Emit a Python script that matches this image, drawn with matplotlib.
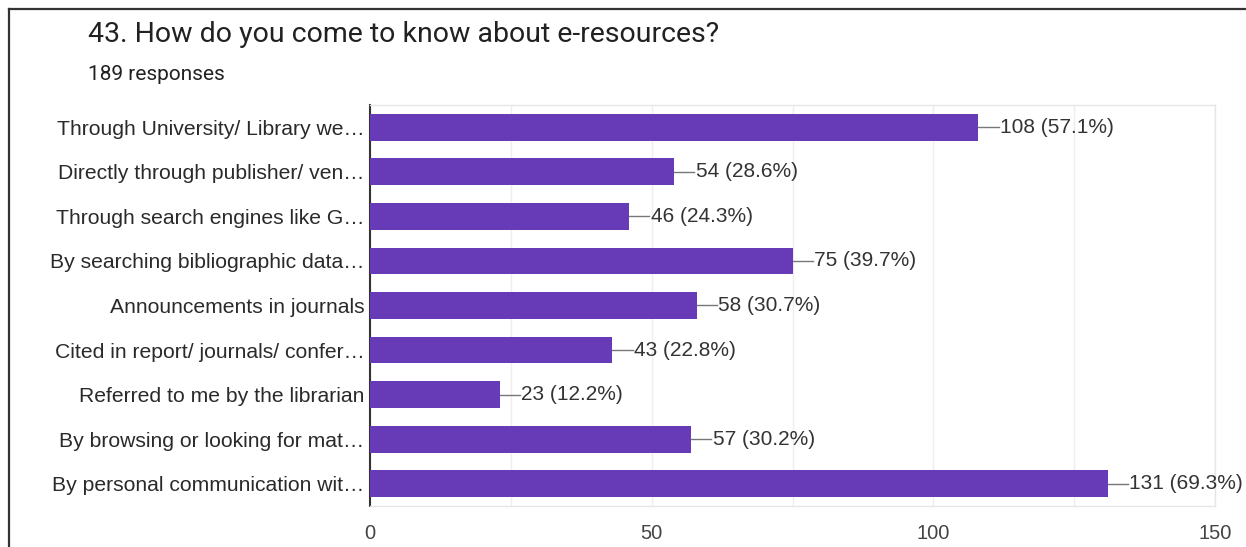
import matplotlib
matplotlib.use("Agg")
from matplotlib import pyplot as plt
from matplotlib.lines import Line2D

plt.rcParams["font.family"] = ["Liberation Sans", "DejaVu Sans"]
TITLE_FONT = ["Roboto", "DejaVu Sans"]

title = "43. How do you come to know about e-resources?"
subtitle = "189 responses"
categories = [
    "Through University/ Library we…",
    "Directly through publisher/ ven…",
    "Through search engines like G…",
    "By searching bibliographic data…",
    "Announcements in journals",
    "Cited in report/ journals/ confer…",
    "Referred to me by the librarian",
    "By browsing or looking for mat…",
    "By personal communication wit…",
]
counts = [108, 54, 46, 75, 58, 43, 23, 57, 131]
percents = [57.1, 28.6, 24.3, 39.7, 30.7, 22.8, 12.2, 30.2, 69.3]
x_ticks = [0, 50, 100, 150]

W, H = 1246, 547
fig = plt.figure(figsize=(W / 100, H / 100), dpi=100)
fig.patch.set_facecolor("white")

# outer frame (only left and top edges visible in the crop)
fig.add_artist(Line2D([9 / W, 9 / W], [0, 1 - 9 / H], transform=fig.transFigure,
                      color="#333333", linewidth=1.6))
fig.add_artist(Line2D([9 / W, 1], [1 - 9 / H, 1 - 9 / H], transform=fig.transFigure,
                      color="#333333", linewidth=1.6))

fig.text(88 / W, 1 - 35 / H, title, fontsize=20.5, color="#212121",
         va="center", ha="left", family=TITLE_FONT)
fig.text(88 / W, 1 - 75 / H, subtitle, fontsize=15, color="#212121",
         va="center", ha="left", family=TITLE_FONT)

left, right, top, bottom = 370, 1215, 105, 506
ax = fig.add_axes([left / W, 1 - bottom / H, (right - left) / W, (bottom - top) / H])

y = list(range(len(categories)))
ax.barh(y, counts, height=0.6, color="#673ab7", zorder=3)
ax.set_ylim(len(categories) - 0.5, -0.5)
ax.set_xlim(0, 150)

for yi, c, p in zip(y, counts, percents):
    ax.plot([c, c + 3.6], [yi, yi], color="#777777", linewidth=1, zorder=3, clip_on=False)
    ax.text(c + 3.8, yi, f"{c} ({p}%)", fontsize=15, color="#333333",
            va="center", ha="left", clip_on=False)

ax.set_yticks(y)
ax.set_yticklabels(categories, fontsize=15.2, color="#2a2a2a")
ax.set_xticks(x_ticks)
ax.set_xticklabels([str(t) for t in x_ticks], fontsize=14.5, color="#444444")
ax.set_xticks([25, 75, 125], minor=True)
ax.tick_params(axis="y", length=0, pad=4)
ax.tick_params(axis="x", which="both", length=0, pad=13)
ax.grid(True, axis="x", which="both", color="#eeeeee", linewidth=1, zorder=0)

ax.spines["left"].set_color("#333333")
ax.spines["left"].set_linewidth(1.5)
for s in ("top", "right", "bottom"):
    ax.spines[s].set_color("#e6e6e6")
    ax.spines[s].set_linewidth(1)

fig.savefig("out.png", dpi=100)
